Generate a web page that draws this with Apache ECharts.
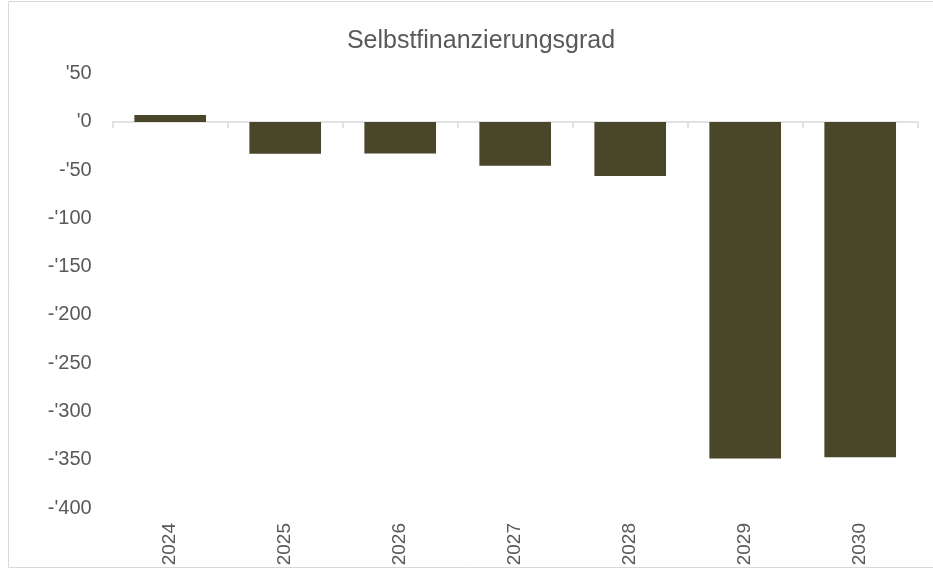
<!DOCTYPE html>
<html>
<head>
<meta charset="utf-8">
<script src="https://cdn.jsdelivr.net/npm/echarts@6/dist/echarts.min.js"></script>
<style>
  html, body { margin: 0; padding: 0; background: #fff; }
  #chart { width: 933px; height: 574px; }
</style>
</head>
<body>
<div id="chart"></div>
<script>
// jahre und werte
const years = ['2024', '2025', '2026', '2027', '2028', '2029', '2030']
const values = [7.3, -33, -32.7, -45.5, -56, -348.6, -347.3]
const yTicks = { min: -400, max: 50, step: 50 }

const font = "'Liberation Sans Narrow', 'Liberation Sans', Arial, sans-serif"
const grey = '#595959'

function fmtTick(v) {
  // Excel-Stil: Apostroph als Tausendertrenner-Ueberbleibsel
  return v < 0 ? "-'" + Math.abs(v) : "'" + v
}

const chart = echarts.init(document.getElementById('chart'))
chart.setOption({
  animation: false,
  backgroundColor: '#fff',
  title: {
    text: 'Selbstfinanzierungsgrad',
    left: 476,
    top: 24,
    textAlign: 'center',
    textStyle: { fontFamily: font, fontSize: 25, fontWeight: 'normal', color: grey }
  },
  graphic: [{
    type: 'rect',
    shape: { x: 8.5, y: 1.5, width: 940, height: 566 },
    style: { fill: 'none', stroke: '#d9d9d9', lineWidth: 1 },
    silent: true
  }],
  grid: { left: 112.7, right: 15.3, top: 73.7, bottom: 66 },
  xAxis: [
    {
      // nur Beschriftung unten
      type: 'category',
      data: years,
      position: 'bottom',
      axisLine: { show: false, onZero: false },
      axisTick: { show: false },
      axisLabel: { rotate: 90, margin: 15, fontFamily: font, fontSize: 19, color: grey }
    },
    {
      // Nulllinie mit Ticks
      type: 'category',
      data: years,
      position: 'bottom',
      axisLine: { show: true, onZero: true, lineStyle: { color: '#d9d9d9', width: 1.5 } },
      axisTick: { show: true, length: 6, lineStyle: { color: '#d9d9d9', width: 1.5 } },
      axisLabel: { show: false }
    }
  ],
  yAxis: {
    type: 'value',
    min: yTicks.min,
    max: yTicks.max,
    interval: yTicks.step,
    axisLine: { show: false },
    axisTick: { show: false },
    splitLine: { show: false },
    axisLabel: { margin: 21, fontFamily: font, fontSize: 20, color: grey, formatter: fmtTick }
  },
  series: [{
    type: 'bar',
    xAxisIndex: 0,
    data: values,
    barWidth: '62.3%',
    itemStyle: { color: '#4A4629' }
  }]
})
</script>
</body>
</html>
